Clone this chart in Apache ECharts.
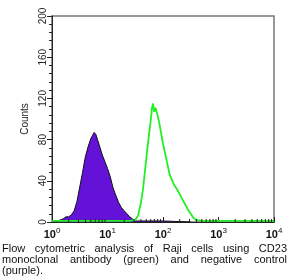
<!DOCTYPE html>
<html>
<head>
<meta charset="utf-8">
<script src="https://cdn.jsdelivr.net/npm/echarts@6/dist/echarts.min.js"></script>
<style>
  html, body { margin: 0; padding: 0; background: #fff; }
  #chart { width: 289px; height: 279px; position: absolute; left: 0; top: 0; }
  .caption {
    position: absolute; left: 2px; top: 243px; width: 285px;
    font-family: "Liberation Sans", Arial, sans-serif; font-size: 11px; line-height: 11px;
    color: #111; text-align: justify;
  }
</style>
</head>
<body>
<div id="chart"></div>
<div class="caption">Flow cytometric analysis of Raji cells using CD23 monoclonal antibody (green) and negative control (purple).</div>
<script>
// log10 of fluorescence
var purpleLogX = [0.00,0.05,0.10,0.15,0.20,0.25,0.30,0.35,0.40,0.45,0.50,0.55,0.60,0.65,0.70,0.73,0.76,0.79,0.82,0.85,0.90,0.95,1.00,1.05,1.10,1.15,1.20,1.25,1.30,1.35,1.40,1.45,1.50,1.60,2.00,2.50];
var purpleCounts = [0,1,1,2,3,5,5,7,11,20,34,48,63,73,81,84,87,85,80,75,66,59,52,44,33,26,19,14,11,8,5,3,1,1,1,0];

var greenLogX = [0.00,0.40,0.80,1.20,1.40,1.50,1.55,1.60,1.64,1.68,1.72,1.75,1.78,1.80,1.82,1.84,1.86,1.88,1.90,1.93,1.96,2.00,2.04,2.08,2.12,2.16,2.20,2.25,2.30,2.35,2.40,2.45,2.50,2.55,2.60,2.70,3.00,3.50,4.00];
var greenCounts = [1,1,1,1,1,2,6,18,32,52,72,86,99,110,115,107,111,108,104,97,88,76,66,56,46,41,36,32,27,22,17,12,8,4,2,1,1,1,1];

var yTicks = [0, 40, 80, 120, 160, 200];
var xMinorTicks = [2,3,4,5,6,7,8,9,20,30,40,50,60,70,80,90,200,300,400,500,600,700,800,900,2000,3000,4000,5000,6000,7000,8000,9000];

function pairs(lx, ys) {
  return lx.map(function (v, i) { return [Math.pow(10, v), ys[i]]; });
}

var chart = echarts.init(document.getElementById('chart'));
var font = '"Liberation Sans", Arial, sans-serif';

chart.setOption({
  animation: false,
  grid: { left: 52, right: 15, top: 16, bottom: 57, show: true, borderColor: '#777', borderWidth: 1.5 },
  xAxis: {
    type: 'log', logBase: 10, min: 1, max: 10000,
    axisLine: { lineStyle: { color: '#222', width: 1 } },
    axisTick: { inside: true, length: 5, lineStyle: { color: '#222' } },
    splitLine: { show: false },
    axisLabel: {
      margin: 5,
      formatter: function (v) { return '{b|10}{s|' + Math.round(Math.log10(v)) + '}'; },
      rich: {
        b: { fontSize: 11, fontFamily: font, color: '#111', fontWeight: 'bold' },
        s: { fontSize: 8, fontFamily: font, color: '#111', verticalAlign: 'bottom', padding: [0, 0, 7, 0] }
      },
      showMaxLabel: true, showMinLabel: true
    }
  },
  yAxis: {
    type: 'value', min: yTicks[0], max: yTicks[yTicks.length - 1], interval: 40,
    name: 'Counts', nameLocation: 'middle', nameGap: 19, nameRotate: 90,
    nameTextStyle: { fontSize: 10, fontFamily: font, color: '#222' },
    axisLine: { show: true, lineStyle: { color: '#222', width: 1 } },
    axisTick: { show: true, length: 5, lineStyle: { color: '#222' } },
    minorTick: { show: true, splitNumber: 5, length: 3, lineStyle: { color: '#222' } },
    splitLine: { show: false },
    axisLabel: { rotate: 90, fontSize: 10, fontFamily: font, color: '#222', margin: 4 }
  },
  series: [
    {
      type: 'line', data: pairs(purpleLogX, purpleCounts), showSymbol: false, z: 3,
      lineStyle: { color: '#111', width: 1 },
      areaStyle: { color: '#6412d8', opacity: 1 }
    },
    {
      type: 'line', data: pairs(greenLogX, greenCounts), showSymbol: false, z: 4,
      lineStyle: { color: '#22f022', width: 1.8 }
    },
    {
      type: 'custom', coordinateSystem: 'cartesian2d', silent: true, z: 5, clip: false,
      data: xMinorTicks.map(function (v) { return [v, 0]; }),
      renderItem: function (params, api) {
        var p = api.coord([api.value(0), 0]);
        return { type: 'line', shape: { x1: p[0], y1: p[1], x2: p[0], y2: p[1] - 3 }, style: { stroke: '#222', lineWidth: 1 } };
      }
    }
  ]
});
</script>
</body>
</html>
